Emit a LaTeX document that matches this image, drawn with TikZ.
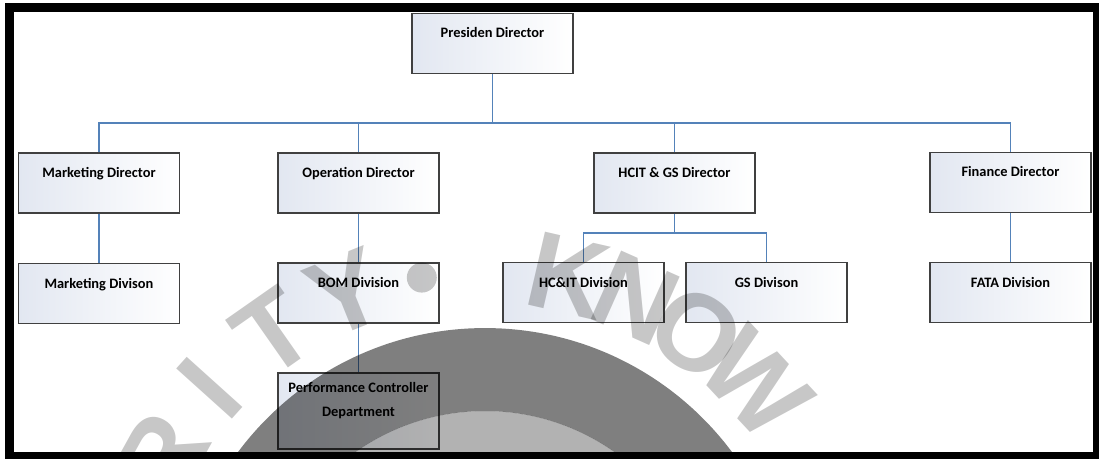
\documentclass[tikz,border=0pt]{standalone}
\usepackage{fontspec}
\setmainfont{Carlito}
\newfontfamily\markfont{Liberation Sans}
\usetikzlibrary{positioning,calc}
\definecolor{linkblue}{RGB}{84,130,185}
\definecolor{boxtint}{RGB}{226,231,241}

\begin{document}
\begin{tikzpicture}[x=0.02cm,y=-0.02cm,
  orgbox/.style={draw=black!75, line width=0.75pt, left color=boxtint, right color=white,
    minimum width=3.22cm, minimum height=1.2cm, inner sep=0pt,
    text height=0.49cm, text depth=0.71cm,
    font=\fontsize{8.2}{13.5}\selectfont\bfseries},
  link/.style={draw=linkblue, line width=0.85pt},
  wmark/.style={font=\markfont\bfseries\fontsize{62}{62}\selectfont,
    text=black, opacity=0.22, inner sep=0pt}]
  \useasboundingbox (0,0) rectangle (1099,459);
  \fill[white] (0,0) rectangle (1099,459);

  \node[orgbox] (pres) at (492.5,43.5) {Presiden Director};
  \node[orgbox] (mdir) at (99,183) {Marketing Director};
  \node[orgbox] (odir) at (358.5,183) {Operation Director};
  \node[orgbox] (hdir) at (674.5,183) {HCIT \& GS Director};
  \node[orgbox] (fdir) at (1010.5,182.5) {Finance Director};
  \node[orgbox] (mdiv) at (99,293.5) {Marketing Divison};
  \node[orgbox] (bom) at (358.5,293) {BOM Division};
  \node[orgbox] (hcit) at (583.5,292.5) {HC\&IT Division};
  \node[orgbox] (gs) at (766.5,292.5) {GS Divison};
  \node[orgbox] (fata) at (1010.5,292.5) {FATA Division};
  \node[orgbox, minimum height=1.52cm, text height=0.39cm, text depth=1.13cm] (perf) at (358.5,411)
    {\begin{tabular}[t]{@{}c@{}}Performance Controller\\Department\end{tabular}};

  \coordinate (bus) at (0,123);
  \coordinate (sub) at (0,233);
  \draw[link] (pres.south) -- (pres.south |- bus);
  \draw[link] (mdir.north) -- (mdir.north |- bus) -- (fdir.north |- bus) -- (fdir.north);
  \draw[link] (odir.north) -- (odir.north |- bus);
  \draw[link] (hdir.north) -- (hdir.north |- bus);
  \draw[link] (mdir) -- (mdiv);
  \draw[link] (odir) -- (bom);
  \draw[link] (bom) -- (perf);
  \draw[link] (fdir) -- (fata);
  \draw[link] (hdir.south) -- (hdir.south |- sub);
  \draw[link] (hcit.north) -- (hcit.north |- sub) -- (gs.north |- sub) -- (gs.north);

  \coordinate (seal) at (485,636);
  \fill[black, opacity=0.5, even odd rule] (seal) circle (6.16cm) (seal) circle (4.5cm);
  \fill[black, opacity=0.3] (seal) circle (4.5cm);
  \fill[black, opacity=0.22] ($(seal)+(100:7.28cm)$) circle (0.3cm);
  \foreach \ch/\ang [count=\i] in {R/151,I/138,T/125,Y/112,K/77,N/66,O/55,W/43}
    \node[wmark, rotate=\ang-90] (wm\i) at ($(seal)+(\ang:7.4cm)$) {\ch};

  \draw[line width=0.18cm] (9.5,8) rectangle (1097,456);
\end{tikzpicture}
\end{document}
